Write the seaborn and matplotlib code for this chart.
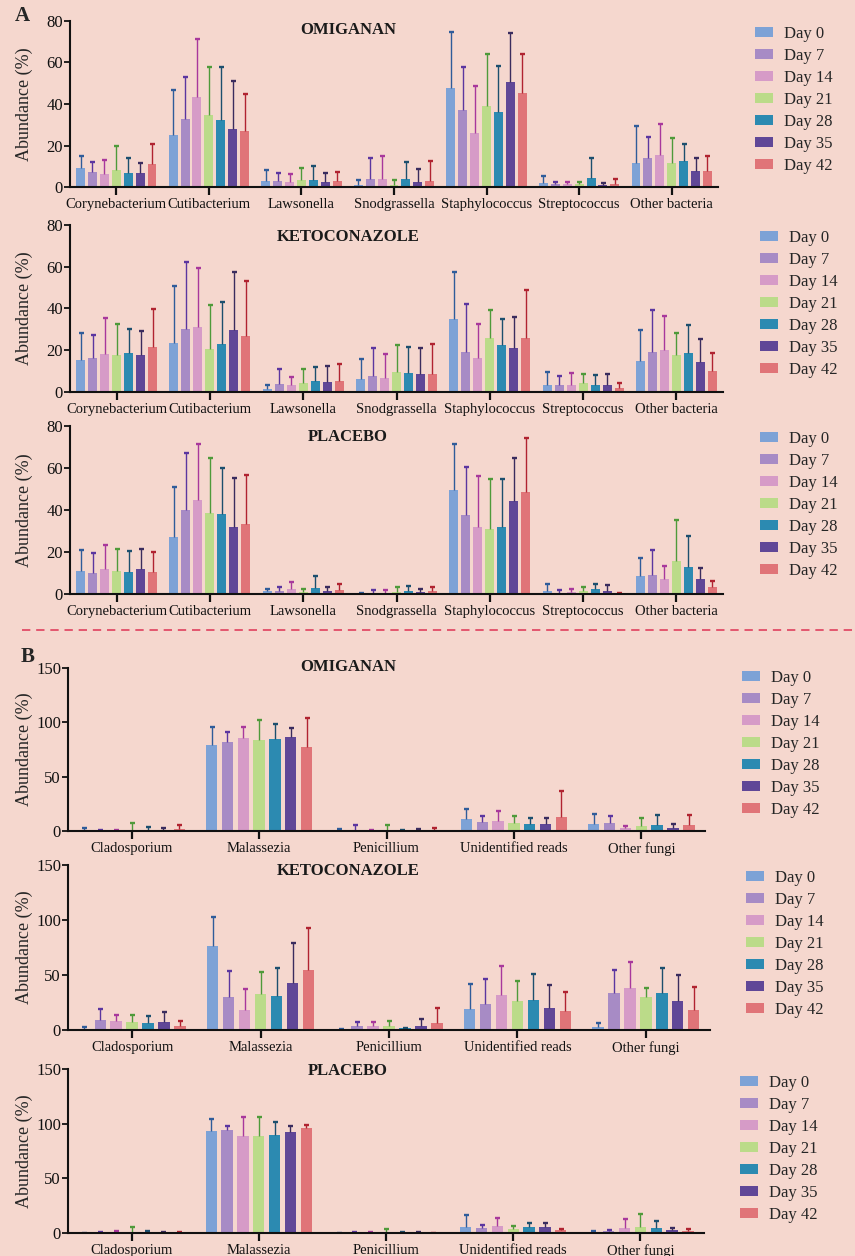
import numpy as np
import pandas as pd
import matplotlib
matplotlib.use("Agg")
import matplotlib.pyplot as plt
from matplotlib.lines import Line2D
import seaborn as sns

# ---------------------------------------------------------------- data
days = ["Day 0", "Day 7", "Day 14", "Day 21", "Day 28", "Day 35", "Day 42"]
bacteria = ["Corynebacterium", "Cutibacterium", "Lawsonella", "Snodgrassella",
            "Staphylococcus", "Streptococcus", "Other bacteria"]
fungi = ["Cladosporium", "Malassezia", "Penicillium", "Unidentified reads", "Other fungi"]

# mean relative abundance (%), rows = genus, columns = day
omi_bac_mean = [[9.3, 7.2, 6.4, 8.3, 6.9, 6.9, 11.2],
                [25.1, 32.8, 43.4, 34.6, 32.3, 28.0, 27.0],
                [3.0, 3.0, 2.6, 3.5, 3.5, 2.6, 3.0],
                [1.0, 4.0, 4.0, 1.0, 4.0, 2.6, 3.0],
                [47.8, 37.3, 26.2, 39.2, 36.3, 50.7, 45.4],
                [1.8, 1.3, 1.3, 1.3, 4.2, 0.8, 1.3],
                [11.4, 13.8, 15.2, 11.4, 12.3, 7.5, 7.5]]
# upper end of the error bar (mean + SD)
omi_bac_hi = [[14.9, 12.0, 12.8, 20.0, 13.8, 11.4, 20.8],
              [46.9, 53.1, 71.2, 57.6, 57.9, 51.2, 45.0],
              [8.0, 6.8, 6.1, 9.0, 9.9, 6.6, 7.0],
              [3.4, 13.8, 14.9, 3.5, 12.0, 8.5, 12.3],
              [74.6, 57.6, 48.5, 64.2, 58.1, 74.2, 64.0],
              [5.3, 2.4, 2.6, 2.4, 14.2, 1.9, 3.8],
              [29.3, 24.2, 30.2, 23.5, 20.5, 14.2, 15.0]]

keto_bac_mean = [[15.3, 16.3, 18.2, 17.7, 18.6, 17.7, 21.5],
                 [23.4, 30.1, 31.1, 20.6, 22.9, 29.6, 26.8],
                 [1.4, 3.8, 3.3, 4.3, 5.3, 4.8, 5.3],
                 [6.2, 7.6, 6.7, 9.6, 9.1, 8.6, 8.6],
                 [35.2, 19.4, 16.1, 25.7, 22.3, 20.9, 26.1],
                 [3.2, 3.2, 3.2, 4.1, 3.2, 3.2, 1.8],
                 [14.7, 19.4, 19.9, 17.5, 18.5, 14.2, 9.9]]
keto_bac_hi = [[28.4, 27.4, 35.5, 32.4, 30.3, 29.3, 39.8],
               [50.8, 62.5, 59.4, 41.8, 43.2, 57.5, 53.2],
               [3.5, 11.0, 7.3, 11.2, 12.1, 12.3, 13.5],
               [15.8, 20.9, 18.2, 22.3, 21.5, 21.2, 23.1],
               [57.4, 42.1, 32.5, 39.5, 35.1, 35.7, 49.1],
               [9.4, 7.6, 9.1, 8.8, 8.0, 8.6, 4.3],
               [29.6, 39.2, 36.3, 28.4, 32.0, 25.5, 18.8]]

plac_bac_mean = [[10.8, 9.9, 11.8, 10.8, 10.3, 11.8, 10.3],
                 [27.0, 39.9, 44.7, 38.5, 38.0, 31.8, 33.2],
                 [1.3, 1.3, 2.2, 1.0, 2.7, 1.3, 1.7],
                 [0.5, 0.6, 0.6, 1.0, 1.3, 0.8, 1.3],
                 [49.6, 37.7, 32.0, 31.0, 32.0, 44.4, 48.6],
                 [1.4, 0.5, 1.0, 1.4, 2.4, 1.4, 0.5],
                 [8.6, 9.1, 7.2, 15.7, 12.9, 7.2, 3.3]]
plac_bac_hi = [[20.8, 19.6, 23.2, 21.6, 20.7, 21.5, 19.9],
               [51.0, 67.2, 71.5, 64.7, 59.8, 55.3, 56.9],
               [2.2, 3.3, 5.7, 2.2, 8.7, 3.3, 4.8],
               [0.6, 2.0, 1.7, 3.3, 3.8, 2.4, 3.2],
               [71.5, 60.7, 56.1, 54.7, 54.7, 65.0, 74.1],
               [4.8, 1.7, 2.5, 3.3, 4.9, 4.5, 0.6],
               [17.3, 21.1, 13.5, 35.3, 27.7, 12.4, 6.4]]

omi_fun_mean = [[0.6, 0.3, 0.6, 1.2, 0.6, 0.6, 1.5],
                [79.1, 81.8, 85.5, 83.7, 84.6, 86.5, 77.2],
                [0.3, 0.6, 0.3, 0.3, 0.3, 0.3, 0.6],
                [10.8, 8.0, 8.9, 7.1, 6.2, 6.2, 12.6],
                [6.2, 7.1, 2.5, 4.3, 5.2, 2.5, 5.2]]
omi_fun_hi = [[2.8, 1.0, 0.9, 7.4, 3.4, 3.1, 5.8],
              [96.0, 90.8, 95.4, 102.5, 98.5, 95.1, 104.0],
              [1.5, 5.8, 0.6, 5.5, 0.9, 1.8, 2.8],
              [20.0, 13.8, 18.5, 13.5, 12.0, 12.0, 36.9],
              [16.0, 13.8, 4.6, 12.0, 14.8, 6.5, 14.8]]

keto_fun_mean = [[0.3, 9.1, 8.2, 7.3, 6.4, 7.3, 3.6],
                 [76.4, 30.0, 18.2, 32.7, 30.9, 42.7, 54.5],
                 [0.9, 3.6, 3.6, 3.6, 1.8, 3.6, 6.4],
                 [19.1, 23.6, 31.8, 26.4, 27.3, 20.0, 17.3],
                 [2.7, 33.6, 38.2, 30.0, 33.6, 26.4, 18.2]]
keto_fun_hi = [[2.4, 19.4, 13.9, 13.6, 13.0, 16.7, 8.2],
               [102.4, 53.9, 37.3, 52.7, 56.7, 78.8, 93.0],
               [1.2, 7.0, 7.0, 8.5, 2.1, 10.3, 20.3],
               [41.8, 46.0, 57.9, 44.8, 50.6, 40.6, 34.8],
               [6.1, 54.8, 61.5, 38.5, 56.7, 49.7, 38.8]]

plac_fun_mean = [[0.2, 0.3, 0.3, 0.9, 0.9, 0.3, 0.6],
                 [93.3, 94.2, 88.7, 88.7, 89.6, 92.4, 96.0],
                 [0.2, 0.3, 0.3, 0.5, 0.3, 0.3, 0.3],
                 [5.2, 4.3, 6.1, 3.4, 5.2, 5.2, 2.4],
                 [1.2, 1.5, 4.3, 5.2, 4.3, 2.4, 1.5]]
plac_fun_hi = [[0.3, 0.6, 2.1, 5.5, 1.8, 0.6, 0.9],
               [104.3, 98.2, 106.4, 106.4, 101.5, 98.2, 99.1],
               [0.3, 0.5, 0.5, 3.4, 0.6, 0.5, 0.3],
               [16.2, 7.6, 14.1, 6.7, 9.5, 9.5, 4.0],
               [2.1, 3.0, 12.8, 17.7, 11.3, 4.9, 4.0]]

bar_colors = ["#7DA2D6", "#A78BC5", "#D69BC7", "#BBDB89", "#2C8AB1", "#604797", "#E07478"]
err_colors = ["#2F5C9A", "#5B36A0", "#A8389C", "#4F9A3A", "#1C4F6E", "#3A2C5E", "#B02330"]

BG = "#F5D7CE"
W, H = 855, 1256

# ---------------------------------------------------------------- style
sns.set_theme(style="ticks")
plt.rcParams["font.family"] = ["Liberation Serif", "DejaVu Serif"]
plt.rcParams["axes.facecolor"] = BG
plt.rcParams["figure.facecolor"] = BG

fig = plt.figure(figsize=(W / 100, H / 100), dpi=100)
fig.patch.set_facecolor(BG)


def fx(x):
    return x / W


def fy(y):
    return 1 - y / H


def make_axes(left, top, right, bottom):
    return fig.add_axes([fx(left), fy(bottom), (right - left) / W, (bottom - top) / H])


def panel(box, genera, means, highs, ymax, yticks, width, gap, title, title_y, leg_xy):
    ax = make_axes(*box)
    rows = []
    for g, genus in enumerate(genera):
        for d, day in enumerate(days):
            rows.append({"genus": genus, "day": day, "value": means[g][d]})
    df = pd.DataFrame(rows)
    sns.barplot(data=df, x="genus", y="value", hue="day", order=genera,
                hue_order=days, palette=bar_colors, saturation=1,
                width=width, gap=gap, errorbar=None, ax=ax, linewidth=0)

    # one-sided (upper) error bars: a stem from the bar top and a cap at the end
    bar_sets = list(ax.containers)[:len(days)]
    for d, cont in enumerate(bar_sets):
        xs = np.array([b.get_x() + b.get_width() / 2 for b in cont])
        ys = np.array([b.get_height() for b in cont])
        tops = np.array([highs[g][d] for g in range(len(genera))])
        ax.vlines(xs, ys, tops, colors=err_colors[d], linewidth=1.0, zorder=1)
        ax.plot(xs, tops, linestyle="none", marker="_", markersize=3.6,
                markeredgewidth=1.7, color=err_colors[d], zorder=1)

    handles, labels = ax.get_legend_handles_labels()
    if ax.get_legend() is not None:
        ax.get_legend().remove()
    fig.legend(handles[:len(days)], labels[:len(days)], loc="upper left",
               bbox_to_anchor=(fx(leg_xy[0]), fy(leg_xy[1] - 6)),
               frameon=False, fontsize=12, borderpad=0, borderaxespad=0,
               handlelength=1.1, handleheight=0.55, handletextpad=0.65,
               labelspacing=0.36)

    ax.set_xlim(-0.5, len(genera) - 0.5)
    ax.set_ylim(0, ymax)
    ax.set_yticks(yticks)
    ax.set_xlabel("")
    ax.set_ylabel("Abundance (%)", fontsize=13)
    ax.yaxis.set_label_coords(-(box[0] - 33) / (box[2] - box[0]), 0.5)
    sns.despine(ax=ax)
    for s in ("left", "bottom"):
        ax.spines[s].set_linewidth(1.5)
        ax.spines[s].set_color("#111111")
    ax.tick_params(axis="y", length=4, width=1.3, labelsize=12, pad=1, colors="#111111")
    ax.tick_params(axis="x", length=6, width=1.6, labelsize=10.5, pad=2, colors="#111111")
    ax.set_facecolor(BG)
    fig.text(fx(348), fy(title_y), title, ha="center", va="center",
             fontsize=12, fontweight="bold", color="#1a1a1a")
    return ax


# ---------------------------------------------------------------- A: bacteria
ticks_a = [0, 20, 40, 60, 80]
panel((70, 21, 718, 187), bacteria, omi_bac_mean, omi_bac_hi, 80, ticks_a,
      0.9, 0.25, "OMIGANAN", 30, (755, 32))
panel((70, 225, 723, 392), bacteria, keto_bac_mean, keto_bac_hi, 80, ticks_a,
      0.9, 0.25, "KETOCONAZOLE", 237, (760, 236))
panel((70, 426, 723, 594), bacteria, plac_bac_mean, plac_bac_hi, 80, ticks_a,
      0.9, 0.25, "PLACEBO", 437, (760, 437))

# ---------------------------------------------------------------- B: fungi
ticks_b = [0, 50, 100, 150]
panel((68, 668, 705, 831), fungi, omi_fun_mean, omi_fun_hi, 150, ticks_b,
      0.87, 0.28, "OMIGANAN", 667, (742, 676))
panel((68, 865, 710, 1030), fungi, keto_fun_mean, keto_fun_hi, 150, ticks_b,
      0.87, 0.28, "KETOCONAZOLE", 871, (746, 876))
panel((68, 1069, 704, 1233), fungi, plac_fun_mean, plac_fun_hi, 150, ticks_b,
      0.87, 0.28, "PLACEBO", 1071, (740, 1081))

# panel letters and separator
fig.text(fx(22), fy(16), "A", ha="center", va="center", fontsize=15, fontweight="bold")
fig.text(fx(28), fy(657), "B", ha="center", va="center", fontsize=15, fontweight="bold")
fig.add_artist(Line2D([fx(22), fx(855)], [fy(630), fy(630)], color="#E0405E",
                      lw=1.2, linestyle=(0, (5, 3.5))))

fig.savefig("out.png", dpi=100, facecolor=BG)
